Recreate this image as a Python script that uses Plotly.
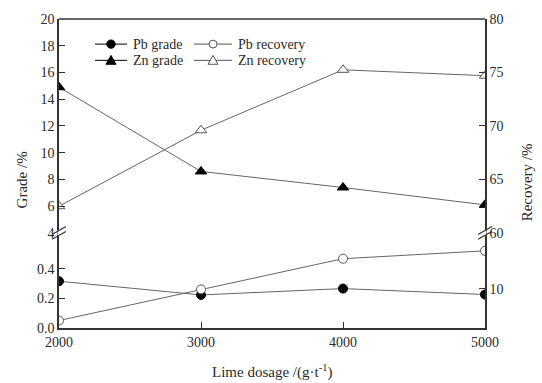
import plotly.graph_objects as go

dosage = [2000, 3000, 4000, 5000]
pb_grade = [0.317, 0.224, 0.267, 0.227]
zn_grade = [14.9, 8.6, 7.4, 6.1]
pb_recovery = [5.95, 9.9, 13.8, 14.8]
zn_recovery = [62.5, 69.6, 75.25, 74.7]

W, H = 542, 383
ML, MR, MT, MB = 59, 57, 14, 55
PW, PH = W - ML - MR, H - MT - MB
BREAK = 0.3076  # paper fraction where axis is broken

FONT = "Liberation Serif"
TXT = "#2a2a2a"
AX = "#333333"
LINE = "#666666"

series = [
    dict(name="Pb grade", y=pb_grade, yaxis="y3", symbol="circle", fill="black", edge="black"),
    dict(name="Zn grade", y=zn_grade, yaxis="y", symbol="triangle-up", fill="black", edge="black"),
    dict(name="Pb recovery", y=pb_recovery, yaxis="y4", symbol="circle", fill="white", edge="#555"),
    dict(name="Zn recovery", y=zn_recovery, yaxis="y2", symbol="triangle-up", fill="white", edge="#555"),
]

fig = go.Figure()
for s in series:
    fig.add_trace(go.Scatter(x=dosage, y=s["y"], name=s["name"], xaxis="x", yaxis=s["yaxis"],
                             mode="lines+markers", line=dict(color=LINE, width=1),
                             marker=dict(symbol=s["symbol"], size=9 if s["symbol"] == "circle" else 10,
                                         color=s["fill"], line=dict(color=s["edge"], width=1)),
                             showlegend=False))

tickfont = dict(family=FONT, size=14, color=TXT)
common_y = dict(showgrid=False, zeroline=False, showline=True, linecolor=AX, linewidth=1.5,
                ticks="inside", ticklen=6, tickcolor=AX, tickfont=tickfont)

fig.update_layout(
    width=W, height=H,
    margin=dict(l=ML, r=MR, t=MT, b=MB),
    paper_bgcolor="white", plot_bgcolor="white",
    showlegend=False,
    xaxis=dict(range=[2000, 5000], tickvals=[2000, 3000, 4000, 5000], anchor="y3",
               showgrid=False, zeroline=False, showline=True, linecolor=AX, linewidth=1.5,
               ticks="inside", ticklen=6, tickcolor=AX, tickfont=tickfont),
    yaxis=dict(domain=[BREAK, 1], range=[4, 20], tickvals=list(range(4, 21, 2)), anchor="x", **common_y),
    yaxis2=dict(domain=[BREAK, 1], range=[60, 80], tickvals=[60, 65, 70, 75, 80], side="right",
                overlaying="y", anchor="x", **common_y),
    yaxis3=dict(domain=[0, BREAK], range=[0, 0.644], tickvals=[0, 0.2, 0.4], tickformat=".1f",
                anchor="x", **common_y),
    yaxis4=dict(domain=[0, BREAK], range=[5, 17.07], tickvals=[10], side="right",
                overlaying="y3", anchor="x", **common_y),
)


def px2paper(x, y):
    return (x - ML) / PW, (MT + PH - y) / PH


# top frame line
shapes = [dict(type="line", xref="paper", yref="paper", x0=0, x1=1, y0=1, y1=1,
               line=dict(color=AX, width=1.5))]

# axis break marks
yb = MT + PH * (1 - BREAK)
for cx in (ML, ML + PW):
    a = px2paper(cx, yb - 2.5)
    b = px2paper(cx, yb + 2.5)
    shapes.append(dict(type="line", xref="paper", yref="paper", x0=a[0], x1=b[0], y0=a[1], y1=b[1],
                       line=dict(color="white", width=3)))
    for off in (-2.5, 2.5):
        p0 = px2paper(cx - 7, yb + 4 + off)
        p1 = px2paper(cx + 7, yb - 4 + off)
        shapes.append(dict(type="line", xref="paper", yref="paper", x0=p0[0], x1=p1[0], y0=p0[1], y1=p1[1],
                           line=dict(color=AX, width=1.2)))

# manual legend (compact two-column layout like the reference)
legend_pos = {
    "Pb grade": (95, 127, 39.5),
    "Zn grade": (95, 127, 56),
    "Pb recovery": (194, 232, 39.5),
    "Zn recovery": (194, 232, 56),
}
annotations = []
for s in series:
    x0, x1, yy = legend_pos[s["name"]]
    lc = "black" if s["fill"] == "black" else "#555"
    a = px2paper(x0, yy)
    b = px2paper(x1, yy)
    shapes.append(dict(type="line", xref="paper", yref="paper", x0=a[0], x1=b[0], y0=a[1], y1=b[1],
                       line=dict(color=lc, width=1)))
    cx = (x0 + x1) / 2
    if s["symbol"] == "circle":
        r = 4.2 if s["fill"] == "black" else 4.0
        p0 = px2paper(cx - r, yy + r)
        p1 = px2paper(cx + r, yy - r)
        shapes.append(dict(type="circle", xref="paper", yref="paper", x0=p0[0], y0=p0[1], x1=p1[0], y1=p1[1],
                           fillcolor=s["fill"], line=dict(color=s["edge"], width=1)))
    else:
        t = px2paper(cx, yy - 5)
        l = px2paper(cx - 5, yy + 4)
        r_ = px2paper(cx + 5, yy + 4)
        path = f"M {t[0]} {t[1]} L {l[0]} {l[1]} L {r_[0]} {r_[1]} Z"
        shapes.append(dict(type="path", xref="paper", yref="paper", path=path,
                           fillcolor=s["fill"], line=dict(color=s["edge"], width=1)))
    tp = px2paper(x1 + 4, yy)
    annotations.append(dict(text=s["name"], xref="paper", yref="paper", x=tp[0], y=tp[1],
                            showarrow=False, xanchor="left", yanchor="middle",
                            font=dict(family=FONT, size=14, color=TXT)))

titlefont = dict(family=FONT, size=15, color=TXT)
annotations += [
    dict(text="Grade /%", xref="paper", yref="paper", x=(22 - ML) / PW, y=px2paper(0, 178)[1],
         showarrow=False, textangle=-90, font=titlefont, xanchor="center", yanchor="middle"),
    dict(text="Recovery /%", xref="paper", yref="paper", x=(527 - ML) / PW, y=px2paper(0, 180)[1],
         showarrow=False, textangle=-90, font=titlefont, xanchor="center", yanchor="middle"),
    dict(text="Lime dosage /(g·t<sup>-1</sup>)", xref="paper", yref="paper", x=0.5,
         y=px2paper(0, 372)[1], showarrow=False, font=titlefont, xanchor="center", yanchor="middle"),
]

fig.update_layout(shapes=shapes, annotations=annotations)

fig.write_html("out.html")
